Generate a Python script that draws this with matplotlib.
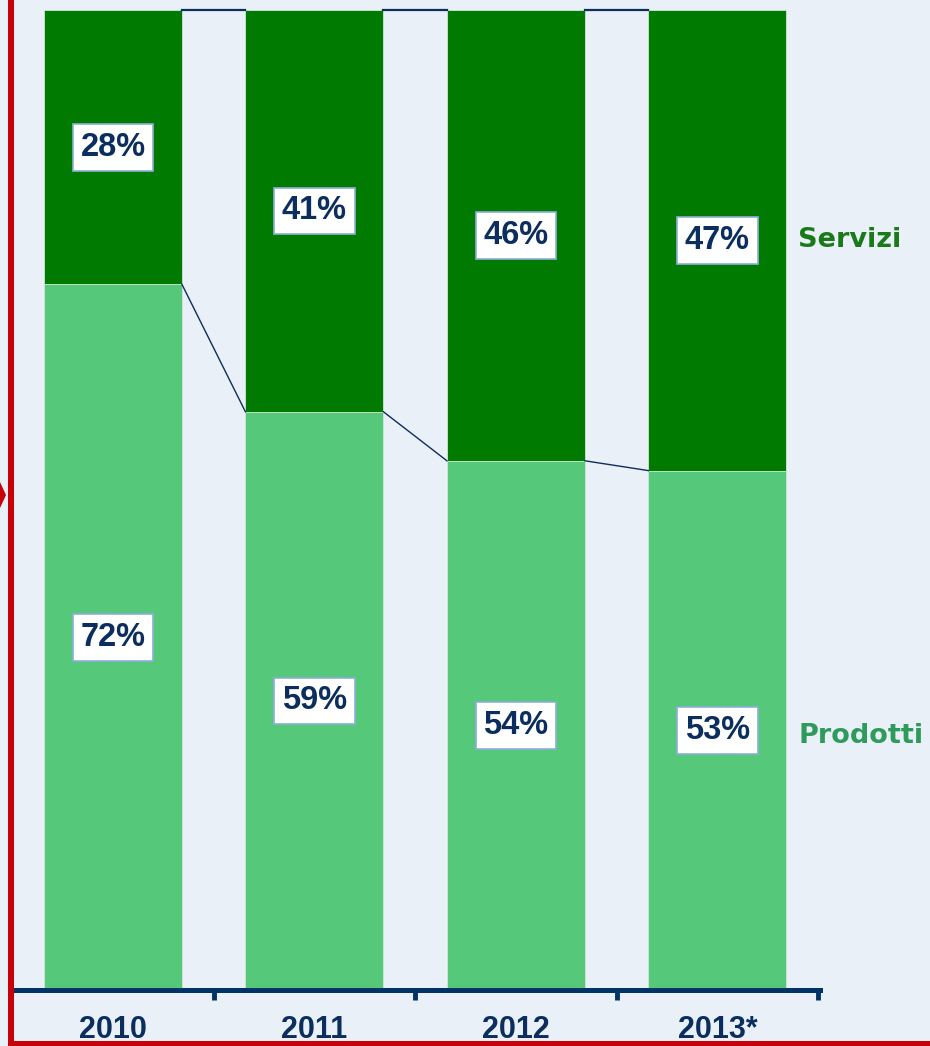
import matplotlib
matplotlib.use("Agg")
import matplotlib.pyplot as plt
from matplotlib.patches import Rectangle, Polygon
from matplotlib.transforms import blended_transform_factory

# Data
years = ["2010", "2011", "2012", "2013*"]
prodotti = [72, 59, 54, 53]
servizi = [28, 41, 46, 47]
series_labels = ["Servizi", "Prodotti"]

BG = "#E9F0F7"
DARK_GREEN = "#007A00"
LIGHT_GREEN = "#55C87A"
NAVY = "#0B2E5E"
RED = "#C8000A"

W, H = 930, 1046
fig = plt.figure(figsize=(W / 100, H / 100), dpi=100, facecolor=BG)

def fx(px):
    return px / W

def fy(py):
    return 1 - py / H

ax_left, ax_right, ax_top, ax_bot = 11, 820, 10, 990
ax = fig.add_axes([fx(ax_left), fy(ax_bot), fx(ax_right - ax_left), (ax_bot - ax_top) / H])
ax.set_facecolor(BG)

x = list(range(len(years)))
bw = 0.685
p = [v / 100 for v in prodotti]
s = [v / 100 for v in servizi]
ax.bar(x, p, width=bw, color=LIGHT_GREEN, edgecolor="#CFE6D6", linewidth=0.6, zorder=2)
ax.bar(x, s, width=bw, bottom=p, color=DARK_GREEN, edgecolor="#CFE6D6", linewidth=0.6, zorder=2)

ax.set_xlim(-0.506, 3.509)
ax.set_ylim(0, 1)

# connector lines
for i in range(len(x) - 1):
    ax.plot([x[i] + bw / 2, x[i + 1] - bw / 2], [1, 1], color=NAVY, lw=1.6,
            clip_on=False, zorder=3)
    ax.plot([x[i] + bw / 2, x[i + 1] - bw / 2], [p[i], p[i + 1]], color=NAVY,
            lw=1.0, clip_on=False, zorder=3)

box = dict(boxstyle="square,pad=0.24", facecolor="white", edgecolor="#8EAEDD", linewidth=1.2)
for i in x:
    ax.text(x[i], p[i] / 2, f"{prodotti[i]}%", ha="center", va="center",
            fontsize=23.5, fontweight="bold", family="Liberation Sans", color=NAVY,
            bbox=box, zorder=4)
    ax.text(x[i], p[i] + s[i] / 2, f"{servizi[i]}%", ha="center", va="center",
            fontsize=23.5, fontweight="bold", family="Liberation Sans", color=NAVY,
            bbox=box, zorder=4)

# series labels on the right
last = len(x) - 1
trans = blended_transform_factory(fig.transFigure, ax.transData)
ax.text(fx(798), p[last] + s[last] / 2, series_labels[0], transform=trans, ha="left",
        va="center", fontsize=19.5, fontweight="bold", family="DejaVu Sans", color="#1A7A1A")
ax.text(fx(798), p[last] / 2 - 0.006, series_labels[1], transform=trans, ha="left",
        va="center", fontsize=19.5, fontweight="bold", family="DejaVu Sans", color="#2E9A5C")

# axis styling
for side in ["top", "right", "left"]:
    ax.spines[side].set_visible(False)
ax.spines["bottom"].set_color("#003366")
ax.spines["bottom"].set_linewidth(3.6)
ax.set_yticks([])
ax.set_xticks([i + 0.5 for i in x])
ax.set_xticklabels([])
ax.tick_params(axis="x", direction="out", length=7, width=3.5, color="#003366")

# year labels
tb = blended_transform_factory(ax.transData, fig.transFigure)
for i in x:
    ax.text(x[i], fy(1030), years[i], transform=tb, ha="center", va="center",
            fontsize=22, fontweight="bold", family="Liberation Sans", color=NAVY,
            clip_on=False)

# red frame
fig.patches.append(Rectangle((fx(8), 0), fx(6), 1, transform=fig.transFigure,
                             facecolor=RED, edgecolor="none", zorder=10))
fig.patches.append(Rectangle((fx(8), 0), 1, 5 / H, transform=fig.transFigure,
                             facecolor=RED, edgecolor="none", zorder=10))
fig.patches.append(Polygon([(fx(0), fy(482)), (fx(6), fy(495)), (fx(0), fy(508))],
                           closed=True, transform=fig.transFigure,
                           facecolor=RED, edgecolor="none", zorder=10))

fig.savefig("out.png", dpi=100, facecolor=BG)
